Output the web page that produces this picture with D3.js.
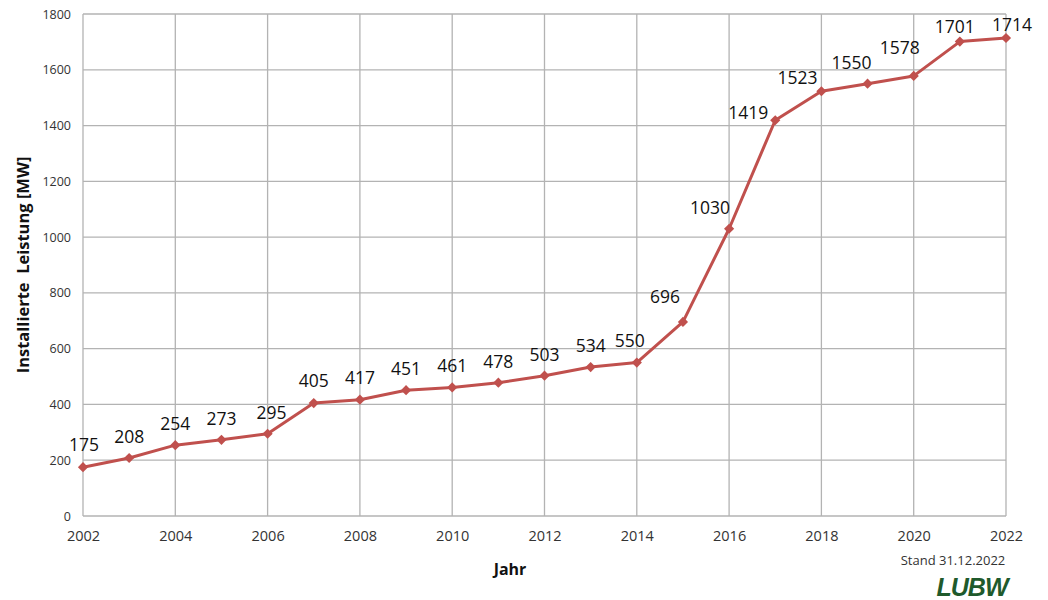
<!DOCTYPE html>
<html><head><meta charset="utf-8">
<script src="https://cdn.jsdelivr.net/npm/d3@7"></script>
<style>body{margin:0;background:#fff}svg{display:block}</style>
</head><body>
<svg id="c" width="1048" height="600"></svg>
<script>
// ---- data ----
const years = [2002,2003,2004,2005,2006,2007,2008,2009,2010,2011,2012,2013,2014,2015,2016,2017,2018,2019,2020,2021,2022];
const values = [175,208,254,273,295,405,417,451,461,478,503,534,550,696,1030,1419,1523,1550,1578,1701,1714];
const xTicks = [2002,2004,2006,2008,2010,2012,2014,2016,2018,2020,2022];
const yTicks = [0,200,400,600,800,1000,1200,1400,1600,1800];

// ---- layout (label offsets in px) ----
const labelDx = [1,0,0,0,4,0,0,0,0,0,0,0,-7,-18,-19,-27,-24,-16,-14,-5,6];
const labelDy = [-23,-22,-22,-22,-22,-23,-23,-22,-22,-22,-22,-22,-23,-26,-22,-8,-14,-22,-29,-16,-14];

const svg = d3.select("#c");
const x = d3.scaleLinear().domain([2002,2022]).range([83,1006]);
const y = d3.scaleLinear().domain([0,1800]).range([516,14]);
const grid = "#b3b3b3";
const font = "'Open Sans', 'Noto Sans', sans-serif";

// grid
svg.append("g").selectAll("line").data(yTicks).join("line")
  .attr("x1",x(2002)).attr("x2",x(2022)).attr("y1",d=>y(d)).attr("y2",d=>y(d))
  .attr("stroke",grid).attr("stroke-width",1.3);
svg.append("g").selectAll("line").data(xTicks).join("line")
  .attr("y1",y(0)).attr("y2",y(1800)).attr("x1",d=>x(d)).attr("x2",d=>x(d))
  .attr("stroke",grid).attr("stroke-width",1.3);

// axes labels via d3 axes
const yAxis = svg.append("g").attr("transform",`translate(${x(2002)},0)`)
  .call(d3.axisLeft(y).tickValues(yTicks).tickFormat(d3.format("d")).tickSize(0).tickPadding(12));
yAxis.select(".domain").remove();
yAxis.selectAll("text").attr("font-family",font).attr("font-size",12.5).attr("fill","#333");

const xAxis = svg.append("g").attr("transform",`translate(0,${y(0)})`)
  .call(d3.axisBottom(x).tickValues(xTicks).tickFormat(d3.format("d")).tickSize(0).tickPadding(15));
xAxis.select(".domain").remove();
xAxis.selectAll("text").attr("font-family",font).attr("font-size",14.5).attr("fill","#333");

// line
const pts = years.map((yr,i)=>({yr,v:values[i],i}));
svg.append("path").datum(pts)
  .attr("d",d3.line().x(d=>x(d.yr)).y(d=>y(d.v)))
  .attr("fill","none").attr("stroke","#c0504d").attr("stroke-width",3).attr("stroke-linejoin","round");
svg.append("g").selectAll("path").data(pts).join("path")
  .attr("transform",d=>`translate(${x(d.yr)},${y(d.v)}) rotate(45)`)
  .attr("d",d3.symbol().type(d3.symbolSquare).size(52))
  .attr("fill","#c0504d");

// value labels
svg.append("g").selectAll("text").data(pts).join("text")
  .attr("x",d=>x(d.yr)+labelDx[d.i]).attr("y",d=>y(d.v)+labelDy[d.i])
  .attr("text-anchor","middle").attr("dominant-baseline","central")
  .attr("font-family",font).attr("font-size",17.5).attr("fill","#111")
  .text(d=>d.v);

// titles
svg.append("text").attr("transform","translate(22,265) rotate(-90)")
  .attr("text-anchor","middle").attr("dominant-baseline","central")
  .attr("font-family",font).attr("font-weight","bold").attr("font-size",16.5).attr("fill","#111")
  .attr("xml:space","preserve").style("white-space","pre")
  .text("Installierte  Leistung [MW]");
svg.append("text").attr("x",510).attr("y",569)
  .attr("text-anchor","middle").attr("dominant-baseline","central")
  .attr("font-family",font).attr("font-weight","bold").attr("font-size",16).attr("fill","#111")
  .text("Jahr");
svg.append("text").attr("x",953).attr("y",560)
  .attr("text-anchor","middle").attr("dominant-baseline","central")
  .attr("font-family",font).attr("font-size",13).attr("fill","#333")
  .text("Stand 31.12.2022");
svg.append("text").attr("x",972).attr("y",587)
  .attr("text-anchor","middle").attr("dominant-baseline","central")
  .attr("font-family","'Liberation Sans', sans-serif").attr("font-weight","bold").attr("font-style","italic")
  .attr("font-size",25).attr("fill","#1f5a2c").attr("letter-spacing",-1)
  .text("LUBW");
</script>
</body></html>
